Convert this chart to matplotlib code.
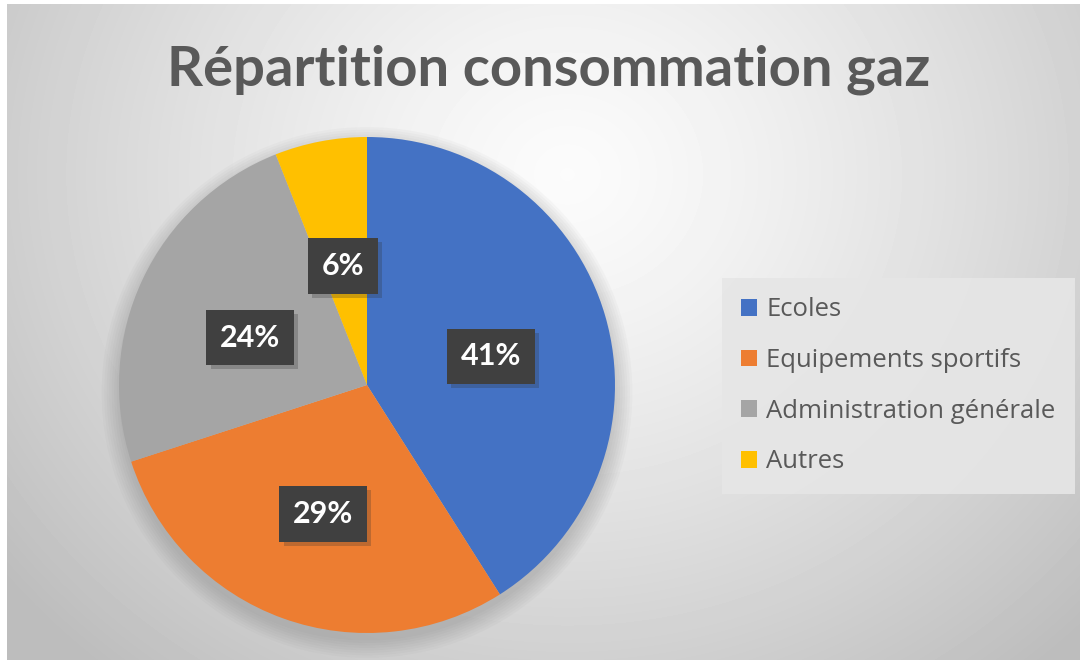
import numpy as np
import matplotlib
matplotlib.use("Agg")
import matplotlib.pyplot as plt
import matplotlib.patheffects as pe
from matplotlib.patches import Circle

title = "Répartition consommation gaz"
categories = ["Ecoles", "Equipements sportifs", "Administration générale", "Autres"]
shares = [41, 29, 24, 6]
colors = ["#4472C4", "#ED7D31", "#A5A5A5", "#FFC000"]

W, H = 1080, 660
fig = plt.figure(figsize=(W / 100, H / 100), dpi=100)
fig.patch.set_facecolor("white")

# radial gradient background
bg = fig.add_axes([7 / W, 0, 1 - 7 / W, 1 - 4 / H])
bg.set_axis_off()
yy, xx = np.mgrid[0:656, 0:1073]
d = np.hypot((xx - 560) / 1.0, (yy - 170) / 0.9)
t = np.clip(d / 720, 0, 1) ** 1.3
shade = 0.985 - t * (0.985 - 0.74)
bg.imshow(shade, cmap="gray", vmin=0, vmax=1, aspect="auto", interpolation="bilinear")

# pie
cx, cy, r = 367, 385, 248
ax = fig.add_axes([(cx - r) / W, (H - cy - r) / H, 2 * r / W, 2 * r / H])
ax.set_axis_off()
for i in range(8):
    ax.add_patch(Circle((0.0, -0.03), 1.0 + 0.01 * i, color="#606060",
                        alpha=0.035, lw=0, zorder=0, clip_on=False))
wedges, _, autotexts = ax.pie(
    shares, colors=colors, startangle=90, counterclock=False, radius=1.0,
    autopct="%d%%", pctdistance=0.52, frame=False,
    wedgeprops=dict(linewidth=0),
    textprops=dict(color="white", fontsize=22, fontweight="bold", family=["Lato", "DejaVu Sans"]))
ax.set_xlim(-1, 1)
ax.set_ylim(-1, 1)
for txt in autotexts:
    x, y = txt.get_position()
    txt.set_position((x, y - 0.03))
    txt.set_bbox(dict(boxstyle="square,pad=0.45", facecolor="#404040", edgecolor="none"))
    txt.get_bbox_patch().set_path_effects(
        [pe.SimplePatchShadow(offset=(3, -3), shadow_rgbFace="#303030", alpha=0.25), pe.Normal()])
    txt.set_zorder(5)

fig.text(0.508, 1 - 70 / H, title, ha="center", va="center", fontsize=40.5,
         fontweight="bold", color="#595959", family=["Lato", "DejaVu Sans"])

leg = fig.legend(wedges, categories, loc="upper left",
                 bbox_to_anchor=(722 / W, 1 - 278 / H), frameon=True,
                 labelcolor="#595959", handlelength=0.62,
                 handleheight=0.62, handletextpad=0.35, labelspacing=1.0,
                 borderpad=0.75, borderaxespad=0, fancybox=False,
                 prop=dict(family=["Open Sans", "DejaVu Sans"], size=18.5))
leg.get_frame().set_facecolor("#e6e6e6")
leg.get_frame().set_edgecolor("none")
leg.get_frame().set_alpha(0.9)

fig.savefig("out.png", dpi=100)
